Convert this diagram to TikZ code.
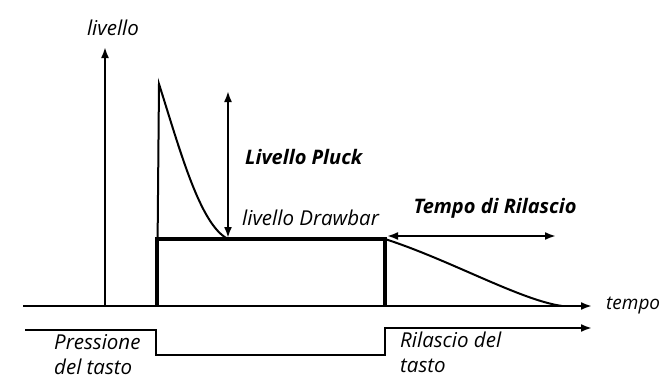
\documentclass[tikz,border=0pt]{standalone}
\usepackage{fontspec}
\setmainfont{Open Sans}
\usetikzlibrary{arrows.meta}
\begin{document}
\begin{tikzpicture}[x=1pt,y=-1pt,
  thinline/.style={line width=2pt},
  thickline/.style={line width=4pt},
  arr/.style={-{Latex[length=11pt,width=8pt]}},
  darr/.style={{Latex[length=11pt,width=8pt]}-{Latex[length=11pt,width=8pt]}},
  lbl/.style={font=\fontsize{20.5}{25}\selectfont\itshape, inner sep=0pt, align=left},
  blbl/.style={font=\fontsize{20}{25}\selectfont\bfseries\itshape, inner sep=0pt}]
\useasboundingbox (0,0) rectangle (665,381);
% coordinates
\coordinate (O) at (23,306);
\coordinate (xend) at (592,306);
\coordinate (yb) at (105,306);
\coordinate (yt) at (105,47);
\coordinate (s) at (157,306);
\coordinate (peak) at (159,84);
\coordinate (dl) at (157,239);
\coordinate (dm) at (228,239);
\coordinate (dr) at (385,239);
\coordinate (rb) at (385,306);
\coordinate (rend) at (562,306);
\coordinate (pt) at (228,91);
\coordinate (pb) at (228,238);
\coordinate (ta) at (387,236);
\coordinate (tb) at (556,236);
\coordinate (k0) at (25,330);
\coordinate (k1) at (156,330);
\coordinate (k2) at (156,355);
\coordinate (k3) at (385,355);
\coordinate (k4) at (385,328);
\coordinate (k5) at (592,328);
% axes
\draw[thinline, arr] (O) -- (xend);
\draw[thinline, arr] (yb) -- (yt);
% envelope
\draw[thinline] (s) -- (peak) .. controls (180,150) and (200,225) .. (dm);
\draw[thickline, line join=miter] (s) -- (dl) -- (dr) -- (rb);
\draw[thinline] (dr) .. controls (450,260) and (520,300) .. (rend);
% measure arrows
\draw[thinline, darr] (pb) -- (pt);
\draw[thinline, darr] (ta) -- (tb);
% key signal
\draw[thinline, arr] (k0) -- (k1) -- (k2) -- (k3) -- (k4) -- (k5);
% labels
\node[lbl] (lv) at (113,28) {livello};
\node[blbl, anchor=west] (lp) at (245,157) {Livello Pluck};
\node[lbl, anchor=west] (ld) at (242,218) {livello Drawbar};
\node[blbl] (tr) at (495,208) {Tempo di Rilascio};
\node[lbl, anchor=west, font=\fontsize{19}{24}\selectfont\itshape] (tp) at (606,306) {tempo};
\node[lbl, anchor=north west] (pr) at (54,334) {Pressione\\del tasto};
\node[lbl, anchor=north west] (rl) at (400,332) {Rilascio del\\tasto};
\end{tikzpicture}
\end{document}
